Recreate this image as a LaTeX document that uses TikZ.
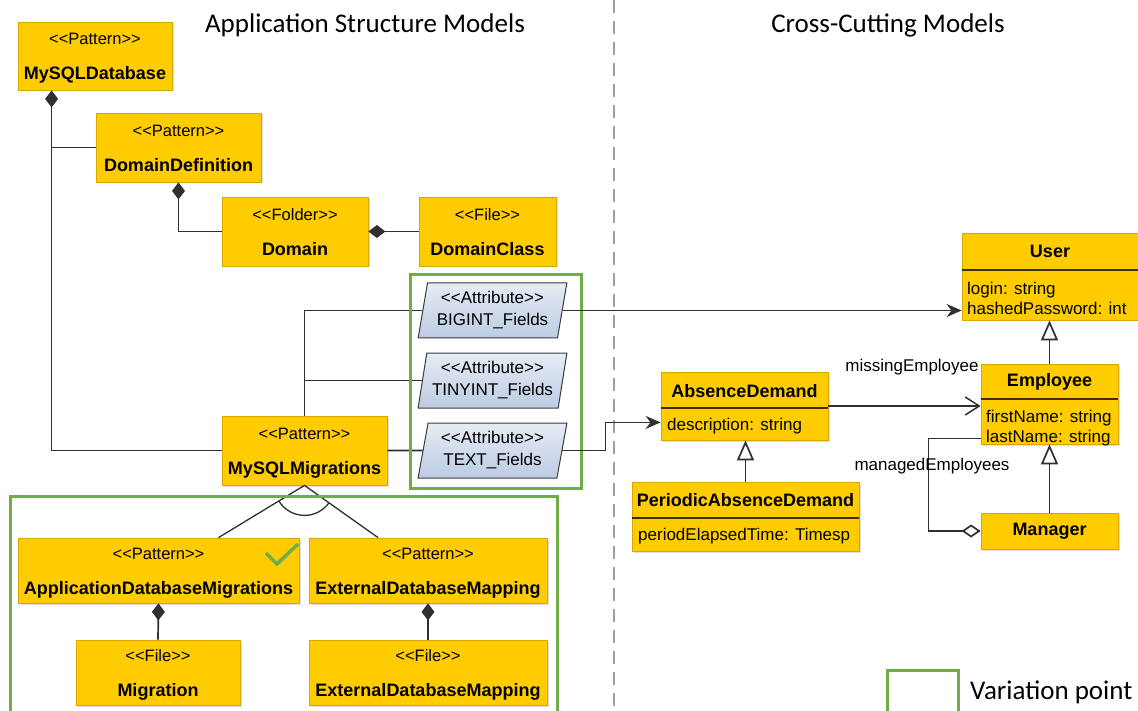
\documentclass[tikz,border=0pt]{standalone}
\usepackage{fontspec}
\setmainfont{Liberation Sans}
\newfontfamily\headfont{Carlito}
\usetikzlibrary{arrows.meta,shapes.geometric,shadows,calc}
\definecolor{boxfill}{HTML}{FFCC00}
\definecolor{boxedge}{HTML}{D9A800}
\definecolor{attrtop}{HTML}{E6ECF5}
\definecolor{attrbot}{HTML}{BCCCE3}
\definecolor{attredge}{HTML}{3A3A3A}
\definecolor{vpgreen}{HTML}{70AD47}
\definecolor{linecol}{HTML}{303030}
\definecolor{sepdark}{HTML}{3C3000}
\definecolor{dashgray}{HTML}{A0A0A0}
\newcommand{\stereo}[1]{<\kern0pt<#1>\kern0pt>}
\newcommand{\twoline}[2]{\rule{0pt}{17pt}\stereo{#1}\\[15pt]{\fontsize{18}{20}\selectfont\bfseries #2}\rule[-4pt]{0pt}{4pt}}

\begin{document}
\begin{tikzpicture}[x=1pt, y=-1pt,
  patternbox/.style={rectangle, draw=boxedge, fill=boxfill, line width=0.8pt, inner sep=0pt, align=center,
    font=\fontsize{16.5}{20}\selectfont, drop shadow={shadow xshift=1.5pt, shadow yshift=-1.5pt, opacity=0.25}},
  attrbox/.style={trapezium, trapezium left angle=78, trapezium right angle=102, trapezium stretches=true,
    draw=attredge, line width=1pt, top color=attrtop, bottom color=attrbot, inner sep=0pt, align=center,
    font=\fontsize{17}{22}\selectfont, minimum width=149pt, minimum height=55pt},
  classbox/.style={rectangle, draw=boxedge, fill=boxfill, line width=0.8pt, inner sep=0pt,
    drop shadow={shadow xshift=1.5pt, shadow yshift=-1.5pt, opacity=0.25}},
  classname/.style={inner sep=0pt, font=\fontsize{18}{20}\selectfont\bfseries},
  classattr/.style={inner sep=0pt, anchor=west, align=left, font=\fontsize{17}{20}\selectfont},
  classsep/.style={draw=sepdark, line width=1.6pt},
  rolelabel/.style={inner sep=0pt, font=\fontsize{17}{20}\selectfont},
  header/.style={inner sep=0pt, font=\headfont\fontsize{27}{32}\selectfont},
  link/.style={draw=linecol, line width=1.7pt},
  compose/.style={link, -{Diamond[length=17pt, width=13pt]}},
  assoc/.style={link, -{Stealth[length=15pt, width=13pt]}},
  navig/.style={link, -{Straight Barb[length=14pt, width=18pt, line width=1.5pt]}},
  general/.style={link, -{Triangle[open, length=20pt, width=17pt, fill=white]}},
  aggreg/.style={link, -{Diamond[open, length=19pt, width=13pt, fill=white]}},
  varpoint/.style={draw=vpgreen, line width=3pt}]
  \useasboundingbox (0,0) rectangle (1138,711);
  \clip (0,0) rectangle (1138,711);
  \node[header] (apphead) at (365,25) {Application Structure Models};
  \node[header] (crosshead) at (888,25) {Cross-Cutting Models};
  \draw[dashgray, line width=2.6pt, dash pattern=on 13pt off 8pt] (614,0) -- (614,711);
  \node[patternbox, minimum width=154pt, minimum height=68pt] (mysqldb) at (95,56) {\twoline{Pattern}{MySQLDatabase}};
  \node[patternbox, minimum width=165pt, minimum height=69pt] (domdef) at (178.5,147.5) {\twoline{Pattern}{DomainDefinition}};
  \node[patternbox, minimum width=146pt, minimum height=69pt] (domain) at (295,231.5) {\twoline{Folder}{Domain}};
  \node[patternbox, minimum width=137pt, minimum height=69pt] (domclass) at (487.5,231.5) {\twoline{File}{DomainClass}};
  \node[patternbox, minimum width=165pt, minimum height=69pt] (migrations) at (304.5,450.5) {\twoline{Pattern}{MySQLMigrations}};
  \node[attrbox] (bigint) at (492.5,310.5) {\stereo{Attribute}\\BIGINT\_Fields};
  \node[attrbox] (tinyint) at (492.5,380.5) {\stereo{Attribute}\\TINYINT\_Fields};
  \node[attrbox] (textf) at (492.5,450.5) {\stereo{Attribute}\\TEXT\_Fields};
  \node[patternbox, minimum width=281pt, minimum height=65pt] (adm) at (158.5,570.5) {\twoline{Pattern}{ApplicationDatabaseMigrations}};
  \node[patternbox, minimum width=238pt, minimum height=65pt] (edmpat) at (428,570.5) {\twoline{Pattern}{ExternalDatabaseMapping}};
  \node[patternbox, minimum width=164pt, minimum height=65pt] (migfile) at (158,672.5) {\twoline{File}{Migration}};
  \node[patternbox, minimum width=238pt, minimum height=65pt] (edmfile) at (428,672.5) {\twoline{File}{ExternalDatabaseMapping}};
  \draw[vpgreen, line width=3.5pt] (266,553) -- (277,564) -- (298,544);
  \coordinate (dbtrunk) at ($(mysqldb.south west)+(34,0)$);
  \draw[compose] (migrations.west) -| (dbtrunk);
  \draw[link] (domdef.west) -- (domdef.west -| dbtrunk);
  \draw[compose] (domain.west) -| (domdef.south);
  \draw[compose] (domclass.west) -- (domain.east);
  \draw[link] (migrations.north) |- (bigint.west);
  \draw[link] (tinyint.west) -- (tinyint.west -| migrations.north);
  \draw[link] (migrations.east) -- (textf.west);
  \draw[link, line width=1.3pt] ($(adm.north)+(60,0)$) -- (migrations.south) -- ($(edmpat.north)+(-50,0)$);
  \draw[link, line width=1.3pt] ($(migrations.south)+(148.5:30)$) arc[start angle=148.5, end angle=35.8, radius=30];
  \draw[compose] (migfile.north) -- (adm.south);
  \draw[compose] (edmfile.north) -- (edmpat.south);
  \draw[varpoint] (410,275) rectangle (581,488);
  \draw[varpoint] (10,496) rectangle (557,725);
  \node[classbox, minimum width=180pt, minimum height=87pt] (user) at (1052,276.5) {};
  \node[classname] (user-name) at (1050,251) {User};
  \draw[classsep] (user.west |- 0,270) -- (user.east |- 0,270);
  \node[classattr] (user-attr) at (967,298) {login: string\\hashedPassword: int};
  \node[classbox, minimum width=137pt, minimum height=80pt] (employee) at (1049.5,404) {};
  \node[classname] (employee-name) at (1049.5,382) {Employee};
  \draw[classsep] (employee.west |- 0,399) -- (employee.east |- 0,399);
  \node[classattr] (employee-attr) at (986,428) {firstName: string\\lastName: string};
  \node[classbox, minimum width=137pt, minimum height=36pt, font=\fontsize{18}{20}\selectfont\bfseries] (manager) at (1049.5,531) {Manager};
  \node[classbox, minimum width=167pt, minimum height=68pt] (absence) at (744.5,406) {};
  \node[classname] (absence-name) at (744.5,391) {AbsenceDemand};
  \draw[classsep] (absence.west |- 0,408) -- (absence.east |- 0,408);
  \node[classattr] (absence-attr) at (667,426) {description: string};
  \node[classbox, minimum width=227pt, minimum height=69pt] (periodic) at (745.5,516.5) {};
  \node[classname] (periodic-name) at (745.5,500) {PeriodicAbsenceDemand};
  \draw[classsep] (periodic.west |- 0,518) -- (periodic.east |- 0,518);
  \node[classattr] (periodic-attr) at (638,536) {periodElapsedTime: Timesp};
  \draw[assoc] (bigint.east) -- (bigint.east -| user.west);
  \draw[assoc] (textf.east) -- ++(43,0) |- ($(absence.south west)+(0,-18)$);
  \draw[navig] (absence.east) -- (absence.east -| employee.west);
  \node[rolelabel] (missing) at (912,367) {missingEmployee};
  \draw[general] (employee.north) -- (employee.north |- user.south);
  \draw[general] (manager.north) -- (employee.south);
  \draw[general] (periodic.north) -- (periodic.north |- absence.south);
  \draw[aggreg] ($(employee.south west)+(0,-6)$) -- ++(-52,0) |- (manager.west);
  \node[rolelabel] (managed) at (932,466) {managedEmployees};
  \draw[varpoint] (887,670) rectangle (958,725);
  \node[header, anchor=west] (legend) at (970,692) {Variation point};
\end{tikzpicture}
\end{document}
